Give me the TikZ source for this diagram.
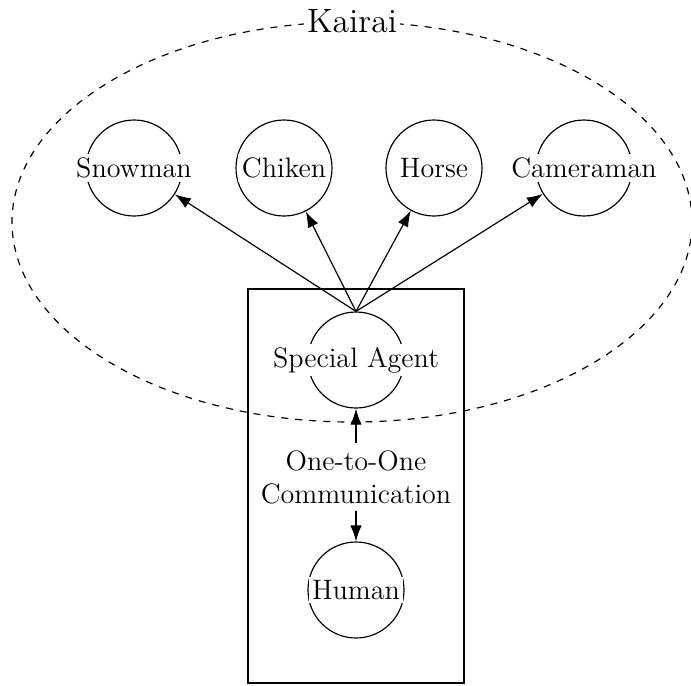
\documentclass[tikz,border=0pt]{standalone}
\usepackage{tikz}
\usetikzlibrary{arrows.meta,shapes.geometric,positioning}
\tikzset{
    mycircle/.style={circle,draw=black,line width=0.5pt,inner sep=0pt,minimum size=14.4mm},
    mylabel/.style={fill=white,inner sep=1.5pt,font=\large},
    myarrow/.style={-{Latex[length=2.4mm,width=1.7mm]},line width=0.5pt,draw=black},
    every node/.style={font=\large}
}
\begin{document}
\begin{tikzpicture}[x=0.15mm,y=-0.15mm]
  \useasboundingbox (0,0) rectangle (691,685);
  % Kairai group
  \node[ellipse,draw,dashed,line width=0.5pt,inner sep=0pt,minimum width=102mm,minimum height=60mm] (kairai) at (352,222) {};
  \node[mylabel,font=\Large] at (kairai.north) {Kairai};
  % box around special agent and human
  \draw[line width=0.6pt] (248,289) rectangle (464,683);
  % puppets
  \node[mycircle] (snow) at (134,168) {};
  \node[mycircle] (chik) at (284,168) {};
  \node[mycircle] (horse) at (434,168) {};
  \node[mycircle] (cam) at (584,168) {};
  \node[mylabel] at (snow) {Snowman};
  \node[mylabel] at (chik) {Chiken};
  \node[mylabel] at (horse) {Horse};
  \node[mylabel] at (cam) {Cameraman};
  % agent and human
  \node[mycircle] (agent) at (356,360) {};
  \node[mylabel] at (agent) {Special Agent};
  \node[mycircle] (human) at (356,590) {};
  \node[mylabel] at (human) {Human};
  \node[align=center,inner sep=3pt] (comm) at (356,477) {One-to-One\\Communication};
  \foreach \t in {snow,chik,horse,cam}{\draw[myarrow] (agent.north) -- (\t);}
  \draw[myarrow] (comm) -- (agent);
  \draw[myarrow] (comm) -- (human);
\end{tikzpicture}
\end{document}
